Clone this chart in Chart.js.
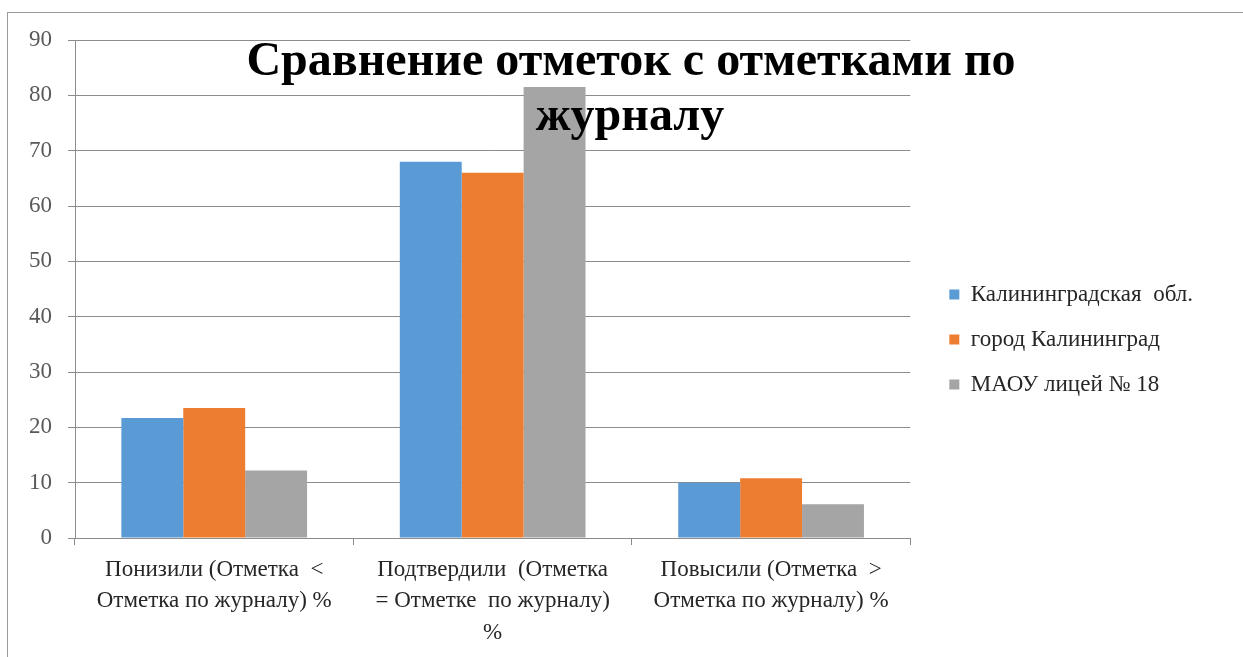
<!DOCTYPE html>
<html lang="ru">
<head>
    <meta charset="UTF-8">
    <title>Сравнение отметок с отметками по журналу</title>
    <script src="https://cdn.jsdelivr.net/npm/chart.js"></script>
    <style>
        body {
            margin: 0;
            background-color: #fff;
            overflow: hidden;
        }
        .frame {
            position: absolute;
            left: 7px;
            top: 12px;
            width: 1250px;
            height: 660px;
            border: 1px solid #9a9a9a;
        }
        .chart-box {
            position: absolute;
            left: 0;
            top: 0;
            width: 1243px;
            height: 657px;
        }
    </style>
</head>
<body>
    <div class="frame"></div>
    <div class="chart-box">
        <canvas id="marksChart"></canvas>
    </div>
    <script>
        const categories = [
            ["Понизили (Отметка  <", "Отметка по журналу) %"],
            ["Подтвердили  (Отметка", "= Отметке  по журналу)", "%"],
            ["Повысили (Отметка  >", "Отметка по журналу) %"]
        ];
        const seriesNames = ["Калининградская  обл.", "город Калининград", "МАОУ лицей № 18"];
        const regionValues = [21.7, 68.0, 10.0];
        const cityValues = [23.5, 66.0, 10.8];
        const lyceumValues = [12.2, 81.5, 6.1];
        const titleLines = ["Сравнение отметок с отметками по", "журналу"];

        const colors = ['#5b9bd5', '#ed7d31', '#a5a5a5'];
        const serif = "'Liberation Serif', serif";

        Chart.defaults.font.family = serif;

        // title sits on top of the plot area, like in the original
        const titleOverlay = {
            id: 'titleOverlay',
            afterDraw(chart) {
                const ctx = chart.ctx;
                ctx.save();
                ctx.font = 'bold 48px ' + serif;
                ctx.fillStyle = '#000';
                ctx.textAlign = 'center';
                ctx.textBaseline = 'alphabetic';
                ctx.fillText(titleLines[0], 631, 75);
                ctx.fillText(titleLines[1], 630, 130);
                ctx.restore();
            }
        };

        // leave a little gap between the plot and the legend, move it up a bit
        const legendNudge = {
            id: 'legendNudge',
            afterLayout(chart) {
                const lg = chart.legend;
                if (!lg) return;
                lg.left += 17;
                lg.right += 17;
                lg.top -= 9;
                lg.bottom -= 9;
            }
        };

        new Chart(document.getElementById('marksChart'), {
            type: 'bar',
            data: {
                labels: categories,
                datasets: [
                    { label: seriesNames[0], data: regionValues, backgroundColor: colors[0] },
                    { label: seriesNames[1], data: cityValues, backgroundColor: colors[1] },
                    { label: seriesNames[2], data: lyceumValues, backgroundColor: colors[2] }
                ]
            },
            options: {
                responsive: true,
                maintainAspectRatio: false,
                animation: false,
                datasets: {
                    bar: { categoryPercentage: 0.667, barPercentage: 1.0 }
                },
                layout: {
                    padding: { top: 40, right: 57, bottom: 0, left: 0 }
                },
                plugins: {
                    legend: {
                        position: 'right',
                        labels: {
                            boxWidth: 10,
                            boxHeight: 10,
                            padding: 22,
                            color: '#262626',
                            font: { family: serif, size: 23 }
                        }
                    },
                    tooltip: { enabled: false }
                },
                scales: {
                    x: {
                        grid: {
                            drawOnChartArea: false,
                            drawTicks: true,
                            tickLength: 7,
                            color: '#8c8c8c'
                        },
                        border: { color: '#8c8c8c' },
                        ticks: {
                            maxRotation: 0,
                            autoSkip: false,
                            color: '#262626',
                            padding: 9,
                            font: { family: serif, size: 23, lineHeight: 1.37 }
                        },
                        afterFit(scale) { scale.height = 119; }
                    },
                    y: {
                        min: 0,
                        max: 90,
                        ticks: {
                            stepSize: 10,
                            color: '#595959',
                            padding: 16,
                            font: { family: serif, size: 23 }
                        },
                        grid: { color: '#8c8c8c', tickLength: 7 },
                        border: { color: '#8c8c8c' },
                        afterFit(scale) { scale.width = 75; }
                    }
                }
            },
            plugins: [titleOverlay, legendNudge]
        });
    </script>
</body>
</html>
